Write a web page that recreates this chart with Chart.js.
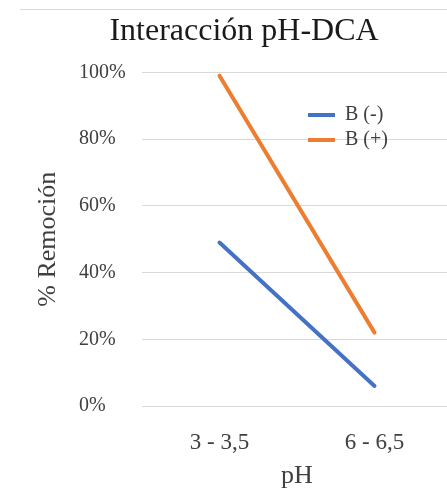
<!DOCTYPE html>
<html>
<head>
<meta charset="utf-8">
<script src="https://cdn.jsdelivr.net/npm/chart.js@4/dist/chart.umd.min.js"></script>
<style>
  body { margin: 0; background: #fff; overflow: hidden; }
  #frame { position: absolute; left: 20px; top: 9px; width: 448px; height: 482px; border-top: 1px solid #d9d9d9; }
</style>
</head>
<body>
<div id="frame"><canvas id="line-chart"></canvas></div>
<script>
  // valores
  const categorias = ['3 - 3,5', '6 - 6,5'];
  const bMenos = [0.49, 0.06];
  const bMas = [0.99, 0.22];
  const yTicks = [0, 0.2, 0.4, 0.6, 0.8, 1];

  const serif = "'Liberation Serif', 'Times New Roman', serif";

  // mueve la leyenda dentro del área del gráfico
  const legendPos = {
    id: 'legendPos',
    afterLayout(chart) {
      const lg = chart.legend;
      const dx = 283 - lg.left, dy = 90 - lg.top;
      lg.left += dx; lg.right += dx;
      lg.top += dy; lg.bottom += dy;
    }
  };

  new Chart(document.getElementById('line-chart'), {
    type: 'line',
    data: {
      labels: categorias,
      datasets: [{
          label: 'B (-)',
          data: bMenos,
          borderColor: '#4472C4',
          backgroundColor: '#4472C4',
          borderWidth: 4,
          borderCapStyle: 'round',
          pointRadius: 0,
          yAxisID: 'y'
        }, {
          label: 'B (+)',
          data: bMas,
          borderColor: '#ED7D31',
          backgroundColor: '#ED7D31',
          borderWidth: 4,
          borderCapStyle: 'round',
          pointRadius: 0,
          yAxisID: 'y'
        }
      ]
    },
    options: {
      responsive: true,
      maintainAspectRatio: false,
      animation: false,
      layout: { padding: 0 },
      plugins: {
        legend: {
          position: 'chartArea',
          align: 'start',
          labels: {
            usePointStyle: true,
            pointStyle: 'line',
            pointStyleWidth: 27,
            padding: 5,
            color: '#404040',
            font: { family: serif, size: 20 }
          }
        },
        title: {
          display: true,
          text: 'Interacción pH-DCA',
          color: '#1a1a1a',
          font: { family: serif, size: 32, weight: 'normal' },
          padding: { top: 2, bottom: 22 }
        },
        tooltip: { enabled: false }
      },
      scales: {
        x: {
          offset: true,
          grid: { display: false },
          border: { display: false },
          ticks: { color: '#404040', padding: 15, font: { family: serif, size: 23 } },
          title: {
            display: true,
            text: 'pH',
            color: '#404040',
            font: { family: serif, size: 26 },
            padding: { top: 0, bottom: 0 }
          },
          afterFit(s) { s.height = 86; }
        },
        y: {
          position: 'left',
          weight: 0,
          min: 0,
          max: 1,
          afterBuildTicks(s) { s.ticks = yTicks.map(v => ({ value: v })); },
          grid: { color: '#d9d9d9', lineWidth: 1, drawTicks: false },
          border: { display: false },
          ticks: {
            crossAlign: 'far',
            padding: 14,
            color: '#404040',
            font: { family: serif, size: 20 },
            callback: v => Math.round(v * 100) + '%'
          },
          afterFit(s) { s.width = 63; }
        },
        y2: {
          position: 'left',
          weight: 1,
          grid: { display: false },
          border: { display: false },
          ticks: { display: false },
          title: {
            display: true,
            text: '% Remoción',
            color: '#404040',
            font: { family: serif, size: 26 },
            padding: { top: 13, bottom: 0 }
          },
          afterFit(s) { s.width = 59; }
        },
        // eje vacío a la derecha: deja el hueco sin mover el título
        yR: {
          position: 'right',
          grid: { display: false },
          border: { display: false },
          ticks: { display: false },
          afterFit(s) { s.width = 16; }
        }
      }
    },
    plugins: [legendPos]
  });
</script>
</body>
</html>
